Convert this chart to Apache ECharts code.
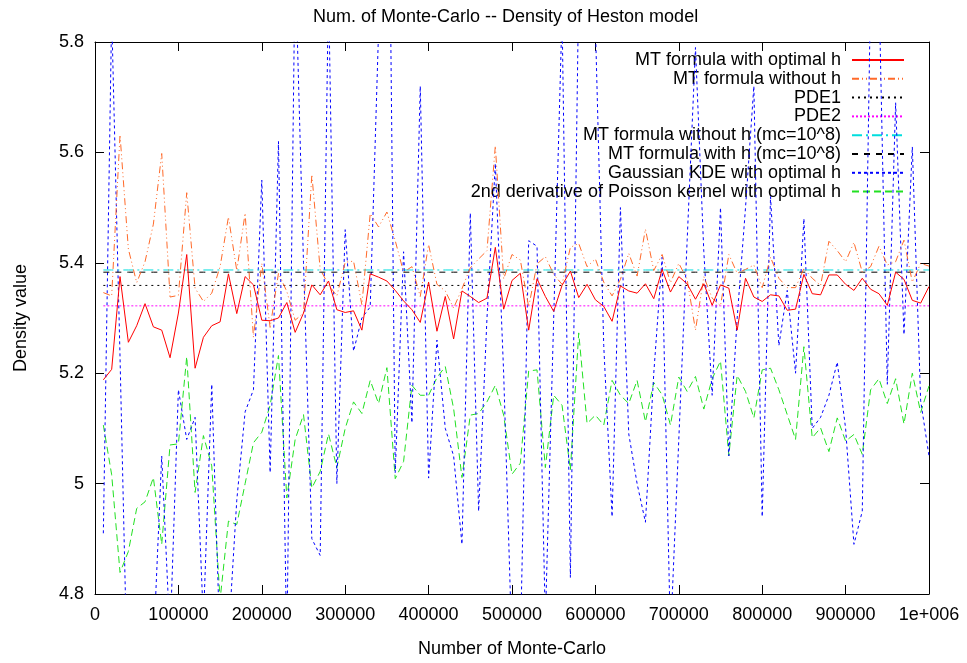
<!DOCTYPE html>
<html>
<head>
<meta charset="utf-8">
<script src="https://cdn.jsdelivr.net/npm/echarts@6/dist/echarts.min.js"></script>
<style>
  html, body { margin: 0; padding: 0; background: #fff; }
  #main { width: 967px; height: 663px; }
</style>
</head>
<body>
<div id="main"></div>
<script>
// number of Monte-Carlo samples (x)
const mcSizes = [
  10000, 20000, 30000, 40000, 50000, 60000, 70000, 80000, 90000, 100000,
  110000, 120000, 130000, 140000, 150000, 160000, 170000, 180000, 190000, 200000,
  210000, 220000, 230000, 240000, 250000, 260000, 270000, 280000, 290000, 300000,
  310000, 320000, 330000, 340000, 350000, 360000, 370000, 380000, 390000, 400000,
  410000, 420000, 430000, 440000, 450000, 460000, 470000, 480000, 490000, 500000,
  510000, 520000, 530000, 540000, 550000, 560000, 570000, 580000, 590000, 600000,
  610000, 620000, 630000, 640000, 650000, 660000, 670000, 680000, 690000, 700000,
  710000, 720000, 730000, 740000, 750000, 760000, 770000, 780000, 790000, 800000,
  810000, 820000, 830000, 840000, 850000, 860000, 870000, 880000, 890000, 900000,
  910000, 920000, 930000, 940000, 950000, 960000, 970000, 980000, 990000, 1000000
];

const mtOptimalH = [
  5.188, 5.207, 5.375, 5.256, 5.286, 5.326, 5.284, 5.278, 5.228, 5.309,
  5.415, 5.209, 5.265, 5.286, 5.293, 5.380, 5.308, 5.375, 5.360, 5.296,
  5.295, 5.300, 5.328, 5.274, 5.309, 5.360, 5.342, 5.367, 5.315, 5.310,
  5.313, 5.278, 5.380, 5.374, 5.367, 5.350, 5.331, 5.315, 5.292, 5.365,
  5.276, 5.339, 5.262, 5.349, 5.339, 5.328, 5.336, 5.428, 5.316, 5.368,
  5.381, 5.278, 5.371, 5.339, 5.312, 5.359, 5.385, 5.337, 5.361, 5.333,
  5.321, 5.294, 5.358, 5.349, 5.345, 5.362, 5.335, 5.388, 5.347, 5.375,
  5.362, 5.334, 5.362, 5.323, 5.360, 5.354, 5.278, 5.372, 5.338, 5.330,
  5.342, 5.340, 5.314, 5.316, 5.379, 5.344, 5.342, 5.378, 5.378, 5.361,
  5.350, 5.372, 5.352, 5.344, 5.323, 5.383, 5.370, 5.332, 5.327, 5.357
];

const mtWithoutH = [
  5.346, 5.340, 5.632, 5.425, 5.364, 5.402, 5.470, 5.598, 5.338, 5.341,
  5.527, 5.354, 5.330, 5.345, 5.393, 5.483, 5.386, 5.490, 5.265, 5.399,
  5.283, 5.381, 5.348, 5.296, 5.309, 5.560, 5.388, 5.360, 5.340, 5.401,
  5.403, 5.324, 5.489, 5.465, 5.492, 5.440, 5.383, 5.393, 5.339, 5.433,
  5.361, 5.349, 5.318, 5.353, 5.391, 5.407, 5.422, 5.612, 5.371, 5.415,
  5.405, 5.320, 5.398, 5.411, 5.379, 5.361, 5.428, 5.435, 5.393, 5.407,
  5.365, 5.340, 5.370, 5.417, 5.376, 5.461, 5.386, 5.415, 5.364, 5.399,
  5.370, 5.278, 5.375, 5.336, 5.322, 5.415, 5.381, 5.388, 5.396, 5.355,
  5.410, 5.372, 5.355, 5.355, 5.390, 5.372, 5.359, 5.439, 5.422, 5.402,
  5.437, 5.383, 5.393, 5.430, 5.396, 5.402, 5.441, 5.365, 5.399, 5.394
];

// reference levels (constant lines)
const pde1 = 5.359;
const pde2 = 5.322;
const mtWithoutHRef = 5.387;
const mtWithHRef = 5.383;

const gaussianKde = [
  4.91, 5.85, 5.23, 4.56, 4.65, 4.70, 4.70, 5.05, 4.72, 5.17,
  5.08, 5.12, 4.75, 5.18, 4.70, 4.72, 4.97, 5.13, 5.17, 5.55,
  5.02, 5.62, 4.70, 5.95, 5.40, 4.90, 4.87, 5.90, 5.00, 5.46,
  5.24, 5.30, 5.32, 5.82, 6.50, 5.02, 5.42, 5.11, 5.72, 5.01,
  5.26, 5.10, 5.05, 4.89, 5.49, 4.95, 5.30, 5.58, 5.20, 4.70,
  4.70, 5.44, 5.43, 4.75, 5.30, 5.85, 4.83, 5.90, 5.90, 5.83,
  5.25, 4.94, 5.50, 5.09, 5.00, 4.93, 5.20, 5.41, 4.72, 5.08,
  5.44, 5.79, 5.42, 5.16, 5.50, 5.05, 5.30, 5.50, 5.72, 4.94,
  5.52, 5.25, 5.35, 5.20, 5.48, 5.10, 5.12, 5.16, 5.22, 5.10,
  4.89, 4.95, 5.90, 5.90, 5.18, 5.69, 5.27, 5.61, 5.15, 5.05
];

const poissonKernel = [
  5.106, 5.016, 4.839, 4.877, 4.955, 4.967, 5.011, 4.890, 5.070, 5.072,
  5.230, 4.984, 5.087, 5.032, 4.790, 4.932, 4.926, 5.000, 5.074, 5.093,
  5.142, 5.232, 4.974, 5.080, 5.125, 4.992, 5.022, 5.090, 5.029, 5.100,
  5.148, 5.127, 5.187, 5.145, 5.210, 5.009, 5.040, 5.178, 5.160, 5.160,
  5.192, 5.212, 5.136, 5.011, 5.124, 5.127, 5.148, 5.178, 5.124, 5.017,
  5.037, 5.204, 5.206, 5.029, 5.160, 5.142, 5.025, 5.273, 5.109, 5.124,
  5.106, 5.187, 5.160, 5.145, 5.187, 5.112, 5.183, 5.161, 5.106, 5.193,
  5.167, 5.194, 5.135, 5.190, 5.222, 5.051, 5.196, 5.167, 5.119, 5.206,
  5.209, 5.170, 5.125, 5.080, 5.248, 5.083, 5.101, 5.058, 5.119, 5.077,
  5.089, 5.053, 5.170, 5.190, 5.145, 5.190, 5.108, 5.200, 5.129, 5.177
];

const seriesNames = [
  "MT formula with optimal h",
  "MT formula without h",
  "PDE1",
  "PDE2",
  "MT formula without h (mc=10^8)",
  "MT formula with h (mc=10^8)",
  "Gaussian KDE with optimal h",
  "2nd derivative of Poisson kernel with optimal h"
];

const yTicks = [4.8, 5, 5.2, 5.4, 5.6, 5.8];

const FONT = "Liberation Sans, Arial, sans-serif";

function pairs(values) {
  return mcSizes.map((x, i) => [x, values[i]]);
}
function level(v) {
  return mcSizes.map((x) => [x, v]);
}

const styles = [
  { color: "#ff0000", type: "solid", width: 1 },
  { color: "#ff6a2a", type: [7, 3, 1, 3, 1, 3], width: 1 },
  { color: "#000000", type: [2, 4], width: 1 },
  { color: "#ff00ff", type: [2, 2], width: 1 },
  { color: "#00dede", type: [10, 4, 2, 4], width: 1 },
  { color: "#000000", type: [6, 6], width: 1 },
  { color: "#0000ff", type: [3, 3], width: 1 },
  { color: "#22e022", type: [7, 4], width: 1 }
];

const seriesData = [
  pairs(mtOptimalH),
  pairs(mtWithoutH),
  level(pde1),
  level(pde2),
  level(mtWithoutHRef),
  level(mtWithHRef),
  pairs(gaussianKde),
  pairs(poissonKernel)
];

const seriesList = seriesData.map((d, k) => ({
  type: "line",
  name: seriesNames[k],
  data: d,
  symbol: "none",
  showSymbol: false,
  clip: true,
  silent: true,
  animation: false,
  color: styles[k].color,
  lineStyle: styles[k],
  z: 10 - k
}));

const chartDom = document.getElementById("main");
const myChart = echarts.init(chartDom, null, { renderer: "canvas" });

const xCommon = {
  type: "value",
  min: 0,
  max: 1000000,
  interval: 100000,
  splitLine: { show: false },
  axisLine: { show: true, onZero: false, lineStyle: { color: "#000", width: 1 } },
  axisTick: { show: true, inside: true, length: 9, lineStyle: { color: "#000" } }
};
const yCommon = {
  type: "value",
  min: yTicks[0],
  max: yTicks[yTicks.length - 1],
  interval: 0.2,
  splitLine: { show: false },
  axisLine: { show: true, onZero: false, lineStyle: { color: "#000", width: 1 } },
  axisTick: { show: true, inside: true, length: 9, lineStyle: { color: "#000" } }
};

const option = {
  animation: false,
  backgroundColor: "#fff",
  textStyle: { fontFamily: FONT },
  title: {
    text: "Num. of Monte-Carlo -- Density of Heston model",
    left: 308,
    top: 3,
    textStyle: { fontFamily: FONT, fontSize: 18, fontWeight: "normal", color: "#000" }
  },
  grid: { left: 95, right: 38, top: 42, bottom: 62 },
  legend: {
    orient: "vertical",
    right: 57,
    top: 46,
    align: "right",
    itemWidth: 52,
    itemHeight: 12,
    itemGap: 0.8,
    selectedMode: false,
    data: seriesNames,
    itemStyle: { opacity: 0 },
    textStyle: {
      fontFamily: FONT,
      fontSize: 18,
      lineHeight: 18,
      color: "#000",
      padding: [0, 6, 0, 0]
    }
  },
  xAxis: [
    Object.assign({}, xCommon, {
      position: "bottom",
      name: "Number of Monte-Carlo",
      nameLocation: "middle",
      nameGap: 46,
      nameTextStyle: { fontFamily: FONT, fontSize: 18, color: "#000" },
      axisLabel: {
        margin: 12,
        fontFamily: FONT,
        fontSize: 18,
        color: "#000",
        formatter: (v) => (v === 1000000 ? "1e+006" : String(v))
      }
    }),
    Object.assign({}, xCommon, { position: "top", axisLabel: { show: false } })
  ],
  yAxis: [
    Object.assign({}, yCommon, {
      position: "left",
      name: "Density value",
      nameLocation: "middle",
      nameGap: 65,
      nameRotate: 90,
      nameTextStyle: { fontFamily: FONT, fontSize: 18, color: "#000" },
      axisLabel: {
        margin: 11,
        fontFamily: FONT,
        fontSize: 18,
        color: "#000",
        formatter: (v) => String(parseFloat(v.toFixed(1)))
      }
    }),
    Object.assign({}, yCommon, { position: "right", axisLabel: { show: false } })
  ],
  series: seriesList
};

myChart.setOption(option);
</script>
</body>
</html>
